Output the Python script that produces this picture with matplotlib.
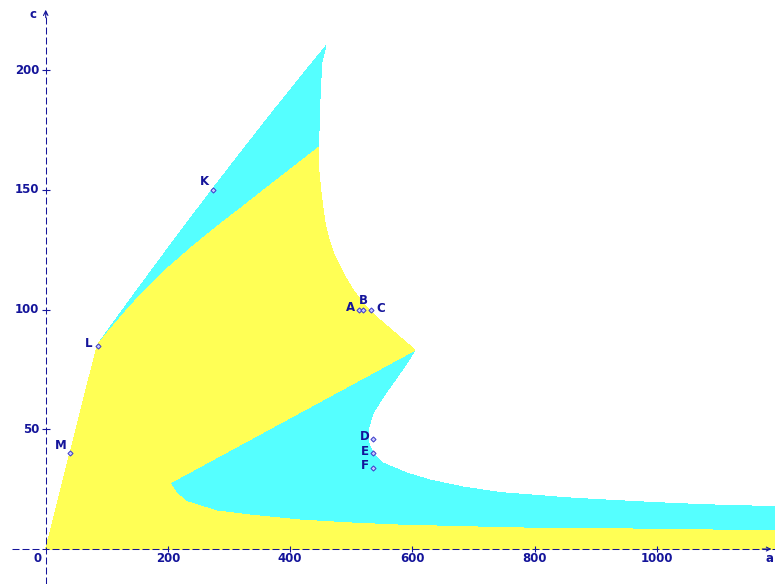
"""
Parameter-plane region chart (a, c): yellow / cyan regions with labelled points.
775 x 584 px
"""
import matplotlib
matplotlib.use('Agg')
import matplotlib.pyplot as plt
import numpy as np

YELLOW = '#FFFF55'
CYAN   = '#55FFFF'
NAVY   = '#14149A'
DOT    = '#3A3AC8'

# ── region boundaries (a, c) ───────────────────────────────────────────────────
# outer left edge: along c = a up to L, then up to the top tip
left_a = [0, 84.5, 110, 140, 180, 230, 273, 320, 370, 420, 458.7]
left_c = [0, 85.2, 94.3, 104.8, 118.7, 135.8, 150.3, 165.8, 182.1, 198.0, 210.1]

# right edge from the tip down to where the yellow starts
right_top_a = [458.7, 451.7, 449.0, 447.3, 445.7]
right_top_c = [210.1, 203.0, 188.8, 175.0, 167.5]

# right edge from there down to the cusp
right_low_a = [445.7, 447.3, 450.1, 453.4, 457.1, 463.7, 473.5, 486.6, 503.0, 522.6,
               540.0, 568.4, 604.4]
right_low_c = [167.5, 157.1, 150.0, 142.9, 136.2, 129.1, 122.0, 115.3, 108.2, 101.6,
               97.2, 91.0, 83.1]

# from the cusp round the nose out to the right edge
nose_a = [604.4, 591.3, 571.7, 552.1, 535.7, 527.5, 527.5, 530.8, 535.7, 552.1, 591.3,
          629.0, 683.0, 743.5, 853.2, 907.2, 989.0, 1079.0, 1195.0]
nose_c = [83.1, 77.7, 70.6, 63.5, 56.8, 49.7, 45.5, 42.6, 40.1, 35.9, 31.7,
          28.8, 25.9, 23.6, 21.4, 20.6, 19.5, 18.5, 17.7]

# yellow / cyan border in the upper part, from L to the right edge
inner_a = [84.5, 105, 133, 160, 200, 240, 280, 320, 380, 445.7]
inner_c = [85.2, 91.6, 99.9, 107.5, 117.4, 126.3, 134.6, 142.5, 154.5, 167.5]

# lower cyan band: straight edge from the cusp to its left tip, then its floor
wedge_a = [604.4, 203.4]
wedge_c = [83.1, 27.6]
floor_a = [203.4, 214.4, 230.8, 279.9, 334.4, 416.2, 498.0, 579.9, 689.5, 797.5,
           907.2, 989.0, 1195.0]
floor_c = [27.6, 23.3, 19.8, 15.9, 14.2, 12.1, 10.9, 10.0, 9.3, 8.7,
           8.5, 8.3, 7.6]

# labelled points
pt_names = ['K', 'L', 'M', 'A', 'B', 'C', 'D', 'E', 'F']
pt_a     = [273, 85, 40, 513, 520, 532, 536, 536, 536]
pt_c     = [150, 85, 40, 100, 100, 100, 46, 40, 34]
# label offset from the point, in pixels (dx, dy up)
pt_off   = [(-8, 8), (-9, 2), (-9, 8), (-9, 2), (0, 9), (10, 1), (-8, 2), (-8, 2), (-8, 2)]

x_ticks = [200, 400, 600, 800, 1000]
y_ticks = [50, 100, 150, 200]

# ── figure ─────────────────────────────────────────────────────────────────────
fig = plt.figure(figsize=(7.75, 5.84), dpi=100)
ax = fig.add_axes([0, 0, 1, 1])
ax.axis('off')
ax.set_xlim(-74.8, 1193.6)
ax.set_ylim(-14.6, 229.3)

# cyan = whole region, yellow painted over it
cyan_a = left_a + right_top_a[1:] + right_low_a[1:] + nose_a[1:] + [nose_a[-1], 0]
cyan_c = left_c + right_top_c[1:] + right_low_c[1:] + nose_c[1:] + [0, 0]
ax.fill(cyan_a, cyan_c, color=CYAN, lw=0, antialiased=False, zorder=1)

yel_a = left_a[:2] + inner_a[1:] + right_low_a[1:] + wedge_a[1:] + floor_a[1:] + [floor_a[-1], 0]
yel_c = left_c[:2] + inner_c[1:] + right_low_c[1:] + wedge_c[1:] + floor_c[1:] + [0, 0]
ax.fill(yel_a, yel_c, color=YELLOW, lw=0, antialiased=False, zorder=2)

# ── axes ───────────────────────────────────────────────────────────────────────
dash = (0, (6.7, 2.9))
ax.axhline(0, xmin=12 / 775, color=NAVY, lw=0.75, ls=dash, zorder=5)
ax.axvline(0, ymax=1 - 12 / 584, color=NAVY, lw=0.75, ls=dash, zorder=5)

ax.plot(x_ticks, [0] * len(x_ticks), ls='none', marker='|', ms=5, mew=0.8, color=NAVY, zorder=5)
ax.plot([0] * len(y_ticks), y_ticks, ls='none', marker='_', ms=6, mew=0.8, color=NAVY, zorder=5)

fnt = dict(fontsize=8.5, fontweight='bold', color=NAVY, family='DejaVu Sans')
for t in x_ticks:
    ax.annotate(str(t), (t, 0), xytext=(0, -7), textcoords='offset points',
                ha='center', va='center', **fnt)
for t in y_ticks:
    ax.annotate(str(t), (0, t), xytext=(-4.6, 0), textcoords='offset points',
                ha='right', va='center', **fnt)
ax.annotate('0', (0, 0), xytext=(-5.8, -7), textcoords='offset points',
            ha='center', va='center', **fnt)

# arrow heads and axis names
ax.annotate('', xy=(0, 0.988), xytext=(0, 0.965),
            xycoords=('data', 'axes fraction'),
            arrowprops=dict(arrowstyle='->', color=NAVY, lw=0.8, mutation_scale=8))
ax.text(33 / 775, 1 - 14 / 584, 'c', transform=ax.transAxes,
        ha='center', va='center', **fnt)
ax.annotate('', xy=(0.999, 0), xytext=(0.98, 0),
            xycoords=('axes fraction', 'data'),
            arrowprops=dict(arrowstyle='->', color=NAVY, lw=0.8, mutation_scale=7))
ax.text(770 / 775, 1 - 558 / 584, 'a', transform=ax.transAxes,
        ha='center', va='center', **fnt)

# ── labelled points ───────────────────────────────────────────────────────────
ax.plot(pt_a, pt_c, ls='none', marker='D', ms=2.6, mfc='#C8C8FF', mec=DOT, mew=0.7, zorder=6)
for name, a, c, (dx, dy) in zip(pt_names, pt_a, pt_c, pt_off):
    ax.annotate(name, (a, c), xytext=(dx * 0.72, dy * 0.72), textcoords='offset points',
                ha='center', va='center', zorder=7, **fnt)

plt.savefig('out.png', dpi=100, facecolor='white')
plt.close()
